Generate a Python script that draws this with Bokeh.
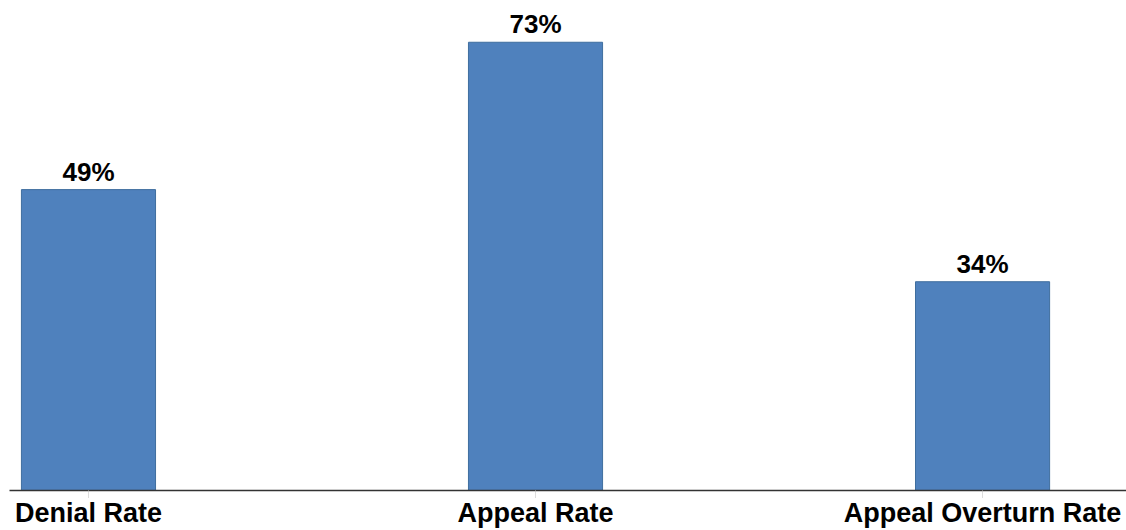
from bokeh.plotting import figure
from bokeh.models import ColumnDataSource, Range1d, FixedTicker
from bokeh.core.properties import value
from bokeh.embed import file_html
from bokeh.resources import INLINE

categories = ["Denial Rate", "Appeal Rate", "Appeal Overturn Rate"]
rates = [49, 73, 34]
labels = ["49%", "73%", "34%"]

xs = list(range(len(categories)))
src = ColumnDataSource(dict(x=xs, top=rates, label=labels))

p = figure(width=1126, height=530, output_backend="svg", toolbar_location=None,
           x_range=Range1d(-0.1767, 2.322), y_range=Range1d(0, 79.8),
           min_border_left=9, min_border_right=0, min_border_top=0, min_border_bottom=39)
p.outline_line_color = None
p.grid.visible = False
p.yaxis.visible = False

p.vbar(x="x", top="top", width=0.3, bottom=0, source=src,
       fill_color="#4F81BD", line_color="#3F6E9E", line_width=1)

p.text(x="x", y="top", text="label", source=src, text_align="center",
       text_baseline="bottom", y_offset=-3, text_font=value("Liberation Sans"),
       text_font_style="bold", text_font_size="26px", text_color="#000000")

ax = p.xaxis[0]
ax.ticker = FixedTicker(ticks=xs)
ax.major_label_overrides = {i: c for i, c in zip(xs, categories)}
ax.major_label_text_font = "Liberation Sans"
ax.major_label_text_font_style = "bold"
ax.major_label_text_font_size = "27px"
ax.major_label_text_color = "#000000"
ax.major_label_standoff = 0
ax.axis_line_color = "#333333"
ax.axis_line_width = 1.5
ax.major_tick_in = 0
ax.major_tick_out = 7
ax.major_tick_line_color = "#BBBBBB"
ax.major_tick_line_dash = "1 1"
ax.minor_tick_line_color = None

open("out.html", "w").write(file_html(p, INLINE))
